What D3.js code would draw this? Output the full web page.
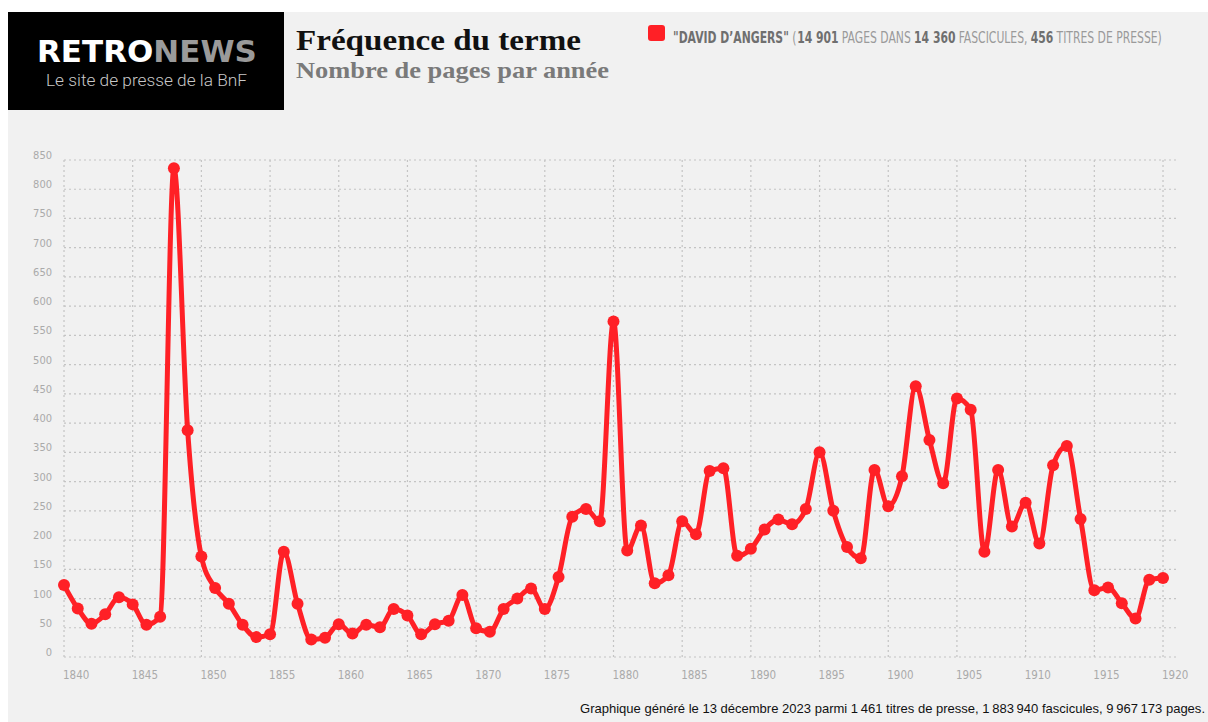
<!DOCTYPE html>
<html>
<head>
<meta charset="utf-8">
<script src="https://cdn.jsdelivr.net/npm/d3@7"></script>
<style>
  html, body { margin: 0; padding: 0; background: #ffffff; }
  svg { display: block; }
</style>
</head>
<body>
<div id="chart"></div>
<script>
// Years (categories) and number of pages per year for "David d'Angers"
const years = [
    1840, 1841, 1842, 1843, 1844, 1845, 1846, 1847, 1848, 1849,
    1850, 1851, 1852, 1853, 1854, 1855, 1856, 1857, 1858, 1859,
    1860, 1861, 1862, 1863, 1864, 1865, 1866, 1867, 1868, 1869,
    1870, 1871, 1872, 1873, 1874, 1875, 1876, 1877, 1878, 1879,
    1880, 1881, 1882, 1883, 1884, 1885, 1886, 1887, 1888, 1889,
    1890, 1891, 1892, 1893, 1894, 1895, 1896, 1897, 1898, 1899,
    1900, 1901, 1902, 1903, 1904, 1905, 1906, 1907, 1908, 1909,
    1910, 1911, 1912, 1913, 1914, 1915, 1916, 1917, 1918, 1919,
    1920
];
const pages = [
    123, 83, 57, 73, 102, 90, 55, 69, 836, 388,
    172, 118, 91, 55, 34, 39, 180, 91, 30, 33,
    56, 40, 55, 51, 82, 71, 39, 56, 62, 106,
    49, 43, 82, 100, 117, 82, 137, 240, 253, 232,
    574, 182, 225, 126, 140, 232, 210, 318, 323, 173,
    185, 218, 235, 227, 253, 350, 250, 188, 169, 320,
    258, 309, 463, 371, 297, 442, 423, 180, 320, 223,
    264, 194, 328, 361, 236, 114, 119, 92, 66, 132,
    135
];
const xTicks = [1840, 1845, 1850, 1855, 1860, 1865, 1870, 1875, 1880, 1885, 1890, 1895, 1900, 1905, 1910, 1915, 1920];
const yTicks = [0, 50, 100, 150, 200, 250, 300, 350, 400, 450, 500, 550, 600, 650, 700, 750, 800, 850];

// Legend pieces: [text, bold]
const legendParts = [
    ['"DAVID D\u2019ANGERS"', true], ['(', false], ['14 901', true], ['PAGES DANS', false],
    ['14 360', true], ['FASCICULES,', false], ['456', true], ['TITRES DE PRESSE)', false]
];

const W = 1208, H = 722;
const margin = { top: 160, right: 45, bottom: 65, left: 64 };
const condensed = "'Liberation Sans Narrow', 'DejaVu Sans Condensed', 'Roboto Condensed', sans-serif";

const svg = d3.select('#chart').append('svg')
    .attr('width', W)
    .attr('height', H);

// Lay out a row of separate text pieces, then squeeze the row to a given width
function textRow(parent, x0, y0, parts, targetWidth, gap) {
    const g = parent.append('g');
    let cx = 0;
    parts.forEach(p => {
        const t = g.append('text')
            .attr('x', cx)
            .attr('y', 0)
            .attr('fill', p.fill)
            .style('font-family', p.family)
            .style('font-weight', p.weight)
            .style('font-size', p.size)
            .text(p.text);
        cx += t.node().getComputedTextLength() + (p.gapAfter !== undefined ? p.gapAfter : gap);
    });
    const last = parts[parts.length - 1];
    const w = cx - (last.gapAfter !== undefined ? last.gapAfter : gap);
    g.attr('transform', `translate(${x0},${y0}) scale(${targetWidth / w},1)`);
    return g;
}

// Grey panel
svg.append('rect')
    .attr('x', 8).attr('y', 12)
    .attr('width', W - 8).attr('height', H - 12)
    .attr('fill', '#f1f1f1');

// Logo block
svg.append('rect')
    .attr('x', 8).attr('y', 12)
    .attr('width', 276).attr('height', 98)
    .attr('fill', '#000');

const logoFont = { family: "'DejaVu Sans', sans-serif", weight: 'bold', size: '30px' };
textRow(svg, 37, 62, [
    { ...logoFont, text: 'RETRO', fill: '#fff', gapAfter: 0 },
    { ...logoFont, text: 'NEWS', fill: '#9a9a9a' }
], 220, 0);

svg.append('text')
    .attr('x', 46).attr('y', 86)
    .attr('textLength', 201)
    .attr('lengthAdjust', 'spacingAndGlyphs')
    .attr('fill', '#c8c8c8')
    .style('font-family', "'Roboto', 'Liberation Sans', sans-serif")
    .style('font-weight', 300)
    .style('font-size', '16px')
    .text('Le site de presse de la BnF');

// Titles
svg.append('text')
    .attr('x', 296).attr('y', 50)
    .attr('textLength', 285)
    .attr('lengthAdjust', 'spacingAndGlyphs')
    .attr('fill', '#111')
    .style('font-family', "'Liberation Serif', 'DejaVu Serif', serif")
    .style('font-weight', 'bold')
    .style('font-size', '29px')
    .text('Fréquence du terme');

svg.append('text')
    .attr('x', 296).attr('y', 78)
    .attr('textLength', 313)
    .attr('lengthAdjust', 'spacingAndGlyphs')
    .attr('fill', '#7a7a7a')
    .style('font-family', "'Liberation Serif', 'DejaVu Serif', serif")
    .style('font-weight', 'bold')
    .style('font-size', '24px')
    .text('Nombre de pages par année');

// Legend
svg.append('rect')
    .attr('x', 648).attr('y', 25)
    .attr('width', 17).attr('height', 16)
    .attr('rx', 3)
    .attr('fill', '#ff2026');

textRow(svg, 673, 43, legendParts.map(([t, b], i) => ({
    text: t,
    fill: b ? '#6f6f6f' : '#9a9a9a',
    weight: b ? 'bold' : 'normal',
    family: condensed,
    size: '15px',
    gapAfter: (i === 1) ? 1 : 4
})), 489, 4);

// Scales
const x = d3.scaleLinear()
    .domain([1840, 1920])
    .range([margin.left, W - margin.right]);

const y = d3.scaleLinear()
    .domain([0, 850])
    .range([H - margin.bottom, margin.top]);

const gridRight = x(1921);

// Horizontal grid
svg.append('g')
    .selectAll('line')
    .data(yTicks)
    .join('line')
    .attr('x1', x(1840)).attr('x2', gridRight)
    .attr('y1', d => y(d)).attr('y2', d => y(d))
    .attr('stroke', '#c4c4c4')
    .attr('stroke-width', 1.2)
    .attr('stroke-dasharray', '2,3');

// Vertical grid
svg.append('g')
    .selectAll('line')
    .data(xTicks)
    .join('line')
    .attr('x1', d => x(d)).attr('x2', d => x(d))
    .attr('y1', y(850)).attr('y2', y(0) + 3)
    .attr('stroke', '#c4c4c4')
    .attr('stroke-width', 1.2)
    .attr('stroke-dasharray', '2,3');

// Axis labels
svg.append('g')
    .selectAll('text')
    .data(yTicks)
    .join('text')
    .attr('x', 52)
    .attr('y', d => y(d) - 1)
    .attr('text-anchor', 'end')
    .attr('fill', '#aaaaaa')
    .style('font-family', condensed)
    .style('font-size', '11px')
    .text(d => d);

svg.append('g')
    .selectAll('text')
    .data(xTicks)
    .join('text')
    .attr('x', d => x(d) - 1)
    .attr('y', 679)
    .attr('fill', '#aaaaaa')
    .style('font-family', condensed)
    .style('font-size', '11.5px')
    .text(d => d);

// Series
const data = years.map((yr, i) => ({ year: yr, value: pages[i] }));

const line = d3.line()
    .x(d => x(d.year))
    .y(d => y(d.value))
    .curve(d3.curveMonotoneX);

svg.append('path')
    .datum(data)
    .attr('fill', 'none')
    .attr('stroke', '#ff2026')
    .attr('stroke-width', 5)
    .attr('stroke-linejoin', 'round')
    .attr('d', line);

svg.append('g')
    .selectAll('circle')
    .data(data)
    .join('circle')
    .attr('cx', d => x(d.year))
    .attr('cy', d => y(d.value))
    .attr('r', 6)
    .attr('fill', '#ff2026');

// Footer
svg.append('text')
    .attr('x', 580).attr('y', 713)
    .attr('textLength', 625)
    .attr('lengthAdjust', 'spacingAndGlyphs')
    .attr('fill', '#111')
    .style('font-family', "'Liberation Sans', Arial, sans-serif")
    .style('font-size', '13px')
    .text('Graphique généré le 13 décembre 2023 parmi 1\u202f461 titres de presse, 1\u202f883\u202f940 fascicules, 9\u202f967\u202f173 pages.');
</script>
</body>
</html>
